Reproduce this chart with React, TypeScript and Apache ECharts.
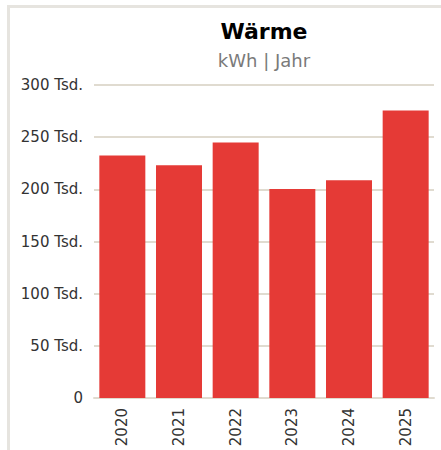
import React, { useEffect, useRef } from "react";
import * as echarts from "echarts";

const years = ["2020", "2021", "2022", "2023", "2024", "2025"];
const waermeKWh = [232500, 223000, 245000, 200300, 208800, 275500];
const yTicks = { min: 0, max: 300000, interval: 50000 };

export default function App() {
  const ref = useRef<HTMLDivElement>(null);
  useEffect(() => {
    if (!ref.current) return;
    const chart = echarts.init(ref.current, undefined, { renderer: "svg" });
    const font = "'DejaVu Sans', Verdana, sans-serif";
    chart.setOption({
      animation: false,
      textStyle: { fontFamily: font },
      title: [
        {
          text: "Wärme",
          left: 259,
          top: 15,
          textAlign: "center",
          textStyle: { fontFamily: font, fontSize: 22, fontWeight: "bold", color: "#000" },
        },
        {
          text: "kWh | Jahr",
          left: 259,
          top: 46,
          textAlign: "center",
          textStyle: { fontFamily: font, fontSize: 18, fontWeight: "normal", color: "#7a7a7a" },
        },
      ],
      grid: { left: 94, right: 7, top: 85, bottom: 52, containLabel: false },
      xAxis: {
        type: "category",
        data: years,
        axisLine: { lineStyle: { color: "#e0dbd0", width: 2 } },
        axisTick: { show: false },
        axisLabel: { rotate: 90, fontSize: 15, color: "#333", margin: 10, fontFamily: font },
      },
      yAxis: {
        type: "value",
        min: yTicks.min,
        max: yTicks.max,
        interval: yTicks.interval,
        axisLine: { show: false },
        axisTick: { show: false },
        splitLine: { lineStyle: { color: "#e0dbd0", width: 2 } },
        axisLabel: {
          fontSize: 15,
          color: "#333",
          margin: 11,
          fontFamily: font,
          formatter: (v: number) => (v === 0 ? "0" : `${v / 1000} Tsd.`),
        },
      },
      series: [
        {
          type: "bar",
          data: waermeKWh,
          barWidth: 46,
          itemStyle: { color: "#e53a36" },
        },
      ],
    });
    return () => chart.dispose();
  }, []);
  return (
    <div style={{ position: "fixed", left: 0, top: 0, width: 441, height: 450, background: "#fff" }}>
      <div
        style={{
          position: "absolute",
          left: 7,
          top: 5,
          width: 450,
          height: 460,
          borderLeft: "3px solid #e6e4df",
          borderTop: "3px solid #e6e4df",
          boxSizing: "border-box",
        }}
      />
      <div ref={ref} style={{ position: "absolute", left: 0, top: 0, width: 441, height: 450 }} />
    </div>
  );
}
